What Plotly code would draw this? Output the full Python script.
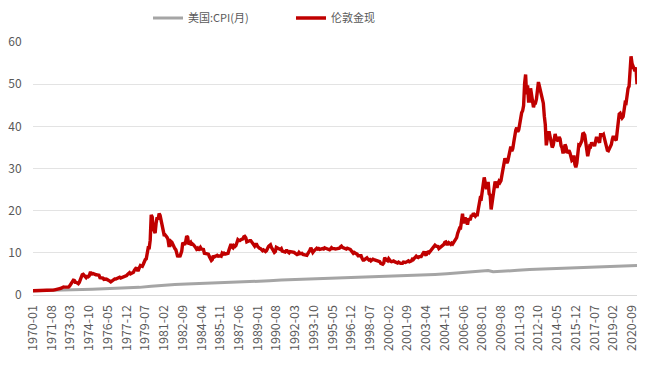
import plotly.graph_objects as go

# ---------------- data ----------------
gold_by_year = {
    1970: [1.0, 1.0, 1.0, 1.0, 1.03, 1.0, 1.0, 1.0, 1.0, 1.06, 1.06, 1.06],
    1971: [1.08, 1.1, 1.1, 1.14, 1.17, 1.2, 1.15, 1.2, 1.2, 1.2, 1.22, 1.25],
    1972: [1.3, 1.38, 1.38, 1.38, 1.54, 1.68, 1.87, 1.9, 1.86, 1.84, 1.8, 1.82],
    1973: [1.86, 2.1, 2.4, 2.57, 2.9, 3.5, 3.45, 3.0, 3.0, 2.9, 2.7, 3.0],
    1974: [3.7, 4.3, 4.8, 4.9, 4.7, 4.4, 4.1, 4.4, 4.3, 4.5, 5.2, 5.2],
    1975: [5.0, 5.1, 5.1, 4.9, 4.8, 4.7, 4.7, 4.7, 4.1, 4.1, 4.1, 4.0],
    1976: [3.7, 3.8, 3.8, 3.7, 3.6, 3.6, 3.3, 3.1, 3.3, 3.3, 3.7, 3.8],
    1977: [3.8, 3.9, 4.2, 4.3, 4.2, 4.0, 4.1, 4.1, 4.3, 4.5, 4.6, 4.6],
    1978: [4.9, 5.1, 5.3, 5.0, 5.1, 5.2, 5.4, 5.9, 6.1, 6.5, 5.9, 5.9],
    1979: [6.5, 7.0, 6.9, 6.8, 7.3, 8.0, 8.4, 8.6, 10.1, 11.2, 11.2, 13.0],
    1980: [19.0, 18.5, 15.8, 14.8, 14.7, 17.1, 18.4, 17.9, 19.3, 18.9, 17.8, 17.0],
    1981: [15.9, 14.3, 14.3, 14.1, 13.7, 13.2, 11.7, 11.7, 12.7, 12.5, 11.8, 11.7],
    1982: [11.0, 10.7, 9.4, 9.0, 9.5, 9.0, 9.7, 10.4, 12.4, 12.1, 11.9, 12.7],
    1983: [14.0, 13.7, 12.0, 12.3, 12.5, 11.8, 12.1, 11.9, 11.7, 11.3, 10.9, 11.1],
    1984: [10.6, 11.0, 11.3, 10.9, 10.8, 10.8, 9.9, 9.9, 9.7, 9.7, 9.7, 9.1],
    1985: [8.7, 8.2, 8.4, 9.3, 9.0, 9.1, 9.1, 9.4, 9.2, 9.3, 9.3, 9.2],
    1986: [9.9, 9.7, 9.9, 9.7, 9.8, 9.8, 9.9, 10.7, 11.9, 12.1, 11.4, 11.2],
    1987: [11.7, 11.5, 11.7, 12.5, 13.1, 12.9, 12.9, 13.1, 13.1, 13.3, 13.8, 13.9],
    1988: [13.6, 12.6, 12.7, 12.9, 12.9, 12.9, 12.5, 12.3, 11.8, 11.6, 12.0, 12.0],
    1989: [11.5, 11.1, 11.1, 11.0, 10.6, 10.5, 10.7, 10.4, 10.3, 10.5, 11.3, 11.5],
    1990: [11.7, 11.9, 11.3, 10.7, 10.5, 10.1, 10.3, 11.3, 11.1, 10.9, 10.9, 10.8],
    1991: [11.0, 10.4, 10.4, 10.2, 10.2, 10.5, 10.5, 10.2, 10.0, 10.3, 10.3, 10.3],
    1992: [10.1, 10.1, 9.9, 9.7, 9.6, 9.7, 10.1, 9.8, 9.9, 9.9, 9.6, 9.5],
    1993: [9.4, 9.4, 9.4, 9.8, 10.5, 10.6, 11.2, 10.8, 10.1, 10.4, 10.7, 10.9],
    1994: [11.1, 10.9, 11.0, 10.8, 10.9, 11.0, 11.0, 10.9, 11.2, 11.1, 11.0, 10.8],
    1995: [10.8, 10.7, 10.9, 11.2, 11.0, 11.1, 11.0, 10.9, 10.9, 10.9, 11.0, 11.1],
    1996: [11.4, 11.6, 11.3, 11.2, 11.2, 11.0, 10.9, 11.1, 10.9, 10.9, 10.8, 10.5],
    1997: [10.1, 9.9, 10.1, 9.8, 9.8, 9.7, 9.3, 9.3, 9.2, 9.3, 8.7, 8.3],
    1998: [8.3, 8.5, 8.5, 8.8, 8.5, 8.3, 8.4, 8.1, 8.3, 8.5, 8.4, 8.3],
    1999: [8.2, 8.2, 8.2, 8.1, 7.9, 7.5, 7.3, 7.3, 7.6, 8.9, 8.4, 8.1],
    2000: [8.1, 8.6, 8.2, 8.0, 7.9, 8.1, 8.1, 7.9, 7.8, 7.7, 7.6, 7.8],
    2001: [7.6, 7.5, 7.5, 7.5, 7.8, 7.7, 7.7, 7.8, 8.1, 8.1, 7.9, 7.9],
    2002: [8.1, 8.5, 8.4, 8.7, 9.0, 9.2, 9.0, 8.9, 9.1, 9.1, 9.1, 9.5],
    2003: [10.2, 10.3, 9.7, 9.4, 10.1, 10.2, 10.0, 10.3, 10.8, 10.8, 11.1, 11.6],
    2004: [11.8, 11.6, 11.6, 11.5, 11.0, 11.2, 11.4, 11.4, 11.6, 12.0, 12.5, 12.6],
    2005: [12.1, 12.1, 12.4, 12.3, 12.0, 12.3, 12.1, 12.5, 13.0, 13.4, 13.6, 14.6],
    2006: [15.7, 15.9, 15.9, 17.4, 19.3, 17.0, 18.1, 18.1, 17.1, 16.7, 17.9, 18.0],
    2007: [18.0, 19.0, 18.7, 19.4, 19.1, 18.7, 19.0, 19.0, 20.4, 21.5, 23.0, 22.9],
    2008: [25.4, 26.3, 27.9, 26.0, 25.4, 25.4, 26.8, 24.0, 23.7, 20.3, 21.7, 23.3],
    2009: [24.5, 26.9, 26.4, 25.4, 26.5, 27.0, 26.7, 27.1, 28.5, 29.8, 32.2, 32.4],
    2010: [31.9, 31.3, 31.8, 32.8, 34.4, 35.2, 34.1, 34.7, 36.3, 38.4, 39.1, 39.7],
    2011: [38.7, 39.2, 40.7, 42.1, 43.2, 43.7, 44.9, 50.2, 52.3, 47.6, 49.7, 46.0],
    2012: [46.0, 49.0, 47.5, 46.5, 44.5, 45.5, 45.5, 46.5, 50.0, 50.5, 49.5, 48.5],
    2013: [47.7, 46.5, 45.5, 42.4, 40.4, 35.5, 36.7, 38.5, 38.5, 37.6, 36.4, 35.0],
    2014: [35.5, 37.1, 38.2, 37.1, 36.8, 36.5, 37.5, 37.0, 35.4, 34.9, 33.6, 34.3],
    2015: [35.7, 35.1, 33.7, 34.2, 34.3, 33.7, 32.3, 31.9, 32.1, 33.1, 31.0, 30.3],
    2016: [31.3, 34.3, 35.6, 35.5, 36.0, 36.5, 38.2, 38.3, 37.9, 36.2, 35.3, 32.9],
    2017: [34.1, 35.3, 35.2, 36.2, 35.6, 36.0, 35.3, 36.7, 37.5, 36.6, 36.6, 36.1],
    2018: [38.0, 38.0, 37.9, 38.1, 37.2, 36.6, 35.4, 34.3, 34.2, 34.7, 34.9, 35.7],
    2019: [36.9, 37.7, 37.1, 36.7, 36.7, 38.8, 40.4, 42.9, 43.1, 42.7, 42.0, 42.3],
    2020: [44.6, 45.6, 45.5, 48.1, 49.0, 49.5, 52.8, 56.6, 54.9, 54.3, 53.3, 53.1],
    2021: [54.0, 50.0],
}

cpi_dates = ["1970-01", "1971-01", "1972-01", "1973-01", "1974-01", "1975-01", "1976-01",
             "1977-01", "1978-01", "1979-01", "1980-01", "1981-01", "1982-01", "1983-01",
             "1984-01", "1985-01", "1986-01", "1987-01", "1988-01", "1989-01", "1990-01",
             "1991-01", "1992-01", "1993-01", "1994-01", "1995-01", "1996-01", "1997-01",
             "1998-01", "1999-01", "2000-01", "2001-01", "2002-01", "2003-01", "2004-01",
             "2005-01", "2006-01", "2007-01", "2008-01", "2008-07", "2008-12", "2009-06",
             "2010-01", "2011-01", "2012-01", "2013-01", "2014-01", "2015-01", "2016-01",
             "2017-01", "2018-01", "2019-01", "2020-01", "2021-02"]
cpi_values = [1.0, 1.05, 1.08, 1.12, 1.23, 1.38, 1.47, 1.55, 1.66, 1.81, 2.06, 2.32,
              2.49, 2.58, 2.67, 2.78, 2.88, 2.94, 3.07, 3.19, 3.38, 3.54, 3.63, 3.74,
              3.84, 3.95, 4.06, 4.19, 4.26, 4.32, 4.45, 4.61, 4.65, 4.76, 4.86, 5.02,
              5.20, 5.36, 5.61, 5.79, 5.50, 5.62, 5.74, 5.86, 6.04, 6.15, 6.25, 6.25,
              6.33, 6.48, 6.62, 6.74, 6.86, 6.98]

tick_labels = ["1970-01", "1971-08", "1973-03", "1974-10", "1976-05", "1977-12", "1979-07",
               "1981-02", "1982-09", "1984-04", "1985-11", "1987-06", "1989-01", "1990-08",
               "1992-03", "1993-10", "1995-05", "1996-12", "1998-07", "2000-02", "2001-09",
               "2003-04", "2004-11", "2006-06", "2008-01", "2009-08", "2011-03", "2012-10",
               "2014-05", "2015-12", "2017-07", "2019-02", "2020-09"]

y_ticks = [0, 10, 20, 30, 40, 50, 60]
series_names = ["美国:CPI(月)", "伦敦金现"]

# ---------------- build ----------------
gold_x, gold_y = [], []
for yr in sorted(gold_by_year):
    for m, v in enumerate(gold_by_year[yr], start=1):
        gold_x.append(f"{yr}-{m:02d}-01")
        gold_y.append(v)

cpi_x = [d + "-01" for d in cpi_dates]
tick_vals = [t + "-01" for t in tick_labels]

# page body has an 8px default margin, so the figure is 8px smaller each way
W, H = 652, 366
font_family = "Noto Sans CJK SC, Microsoft YaHei, sans-serif"
fig = go.Figure()
fig.add_trace(go.Scatter(x=cpi_x, y=cpi_values, mode="lines", name=series_names[0],
                         line=dict(color="#A5A5A5", width=3)))
fig.add_trace(go.Scatter(x=gold_x, y=gold_y, mode="lines", name=series_names[1],
                         line=dict(color="#C00000", width=3.4)))

fig.update_layout(
    width=W, height=H,
    margin=dict(l=25, r=23, t=34, b=79, autoexpand=False),
    paper_bgcolor="white", plot_bgcolor="white",
    font=dict(family=font_family, size=11, color="#595959"),
    showlegend=True,
    legend=dict(orientation="h", xref="container", yref="container",
                x=140 / W, xanchor="left", y=1 - 10 / H, yanchor="middle",
                font=dict(size=11, color="#595959"),
                entrywidth=98, entrywidthmode="pixels", traceorder="normal"),
)
fig.update_xaxes(
    type="date", range=[gold_x[0], gold_x[-1]],
    tickmode="array", tickvals=tick_vals, ticktext=tick_labels,
    tickangle=-90, tickfont=dict(size=12.5, color="#595959"),
    showgrid=False, showline=True, linecolor="#D9D9D9", linewidth=1,
    ticks="outside", ticklen=4, tickcolor="rgba(0,0,0,0)", zeroline=False,
    automargin=False,
)
fig.update_yaxes(
    range=[0, 60], tickvals=y_ticks,
    showgrid=True, gridcolor="#E3E3E3", gridwidth=1,
    zeroline=False, showline=False,
    ticks="outside", ticklen=8, tickcolor="rgba(0,0,0,0)",
    tickfont=dict(size=12, color="#595959"), automargin=False,
)

fig.write_html("out.html")
